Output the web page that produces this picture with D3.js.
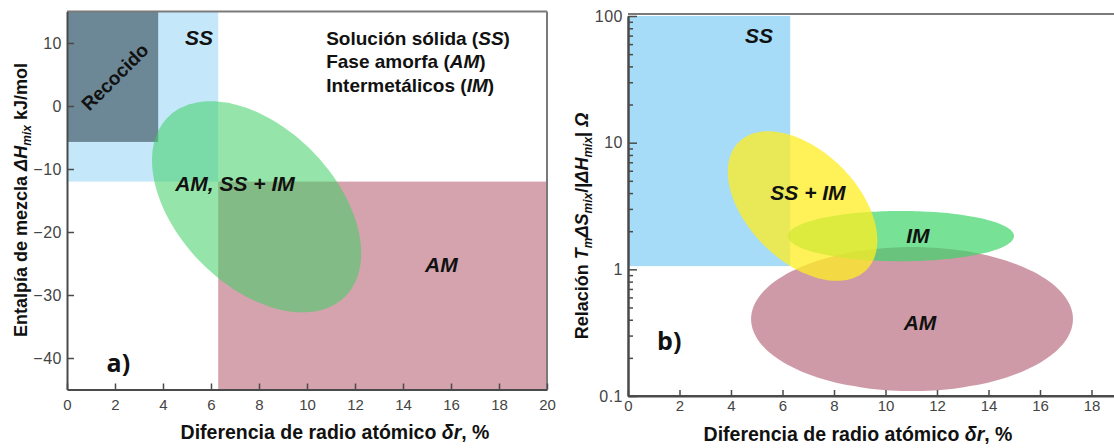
<!DOCTYPE html>
<html>
<head>
<meta charset="utf-8">
<script src="https://cdn.jsdelivr.net/npm/d3@7"></script>
<style>
  body { margin: 0; background: #fff; }
  svg { display: block; font-family: "Liberation Sans", Arial, sans-serif; }
  .tick text { font-size: 15px; fill: #444; }
  .yax .tick text { font-size: 16px; letter-spacing: 0.5px; }
  .lbl { font-weight: bold; font-style: italic; font-size: 21px; fill: #111; }
  .ttl { font-weight: bold; font-size: 18px; fill: #111; }
  .xttl { font-size: 19.5px; }
  .leg { font-size: 19px; }
</style>
</head>
<body>
<div id="chart"></div>
<script>
// ---- data, panel a) ----
var xTicksA = [0, 2, 4, 6, 8, 10, 12, 14, 16, 18, 20];
var yTicksA = [-40, -30, -20, -10, 0, 10];
var rectsA = [
  { id: 'SS',       x0: 0,   x1: 6.3, y0: -12,  y1: 15,  fill: '#c4e8fa' },
  { id: 'Recocido', x0: 0,   x1: 3.8, y0: -5.7, y1: 15,  fill: '#6c8795' },
  { id: 'AM',       x0: 6.3, x1: 20,  y0: -45,  y1: -12, fill: '#d4a3ad' }
];
var ellipsesA = [
  { id: 'AM, SS + IM', center: [7.9, -16.0], major: [11.6, -30.2], minor: [10.2, -7.1] }
];
var labelsA = [
  { text: 'SS',          x: 5.5,  y: 9.7 },
  { text: 'AM, SS + IM', x: 7.0,  y: -13.5 },
  { text: 'AM',          x: 15.6, y: -26.3 }
];
var legendLines = [['Solución sólida (', 'SS', ')'], ['Fase amorfa (', 'AM', ')'], ['Intermetálicos  (', 'IM', ')']];

// ---- data, panel b) ----
var xTicksB = [0, 2, 4, 6, 8, 10, 12, 14, 16, 18];
var yTicksB = [0.1, 1, 10, 100];
var rectsB = [
  { id: 'SS', x0: 0, x1: 6.3, y0: 1.06, y1: 100, fill: '#a6dcf7' }
];
var ellipsesB = [
  { id: 'AM',      center: [11.03, 0.405], major: [17.28, 0.405], minor: [11.03, 1.50], fill: '#cc95a2', op: 0.95 },
  { id: 'IM',      center: [10.6, 1.83],   major: [14.99, 1.83],  minor: [10.6, 2.89],  fill: '#3dd46a', op: 0.7 },
  { id: 'SS + IM', center: [6.78, 3.16],   major: [9.26, 0.99],   minor: [8.29, 6.41],  fill: '#ffee22', op: 0.75 }
];
var labelsB = [
  { text: 'SS',      x: 5.09,  y: 61 },
  { text: 'SS + IM', x: 6.99,  y: 3.53 },
  { text: 'IM',      x: 11.26, y: 1.61 },
  { text: 'AM',      x: 11.34, y: 0.332 }
];

var W = 1114, H = 448;
var svg = d3.select('#chart').append('svg').attr('width', W).attr('height', H);

function ellipsePath(e, x, y) {
  var c = [x(e.center[0]), y(e.center[1])];
  var u = [x(e.major[0]) - c[0], y(e.major[1]) - c[1]];
  var v = [x(e.minor[0]) - c[0], y(e.minor[1]) - c[1]];
  var pts = d3.range(0, 96).map(function(i) {
    var t = i / 96 * 2 * Math.PI;
    return [c[0] + u[0] * Math.cos(t) + v[0] * Math.sin(t),
            c[1] + u[1] * Math.cos(t) + v[1] * Math.sin(t)];
  });
  return d3.line().curve(d3.curveCardinalClosed)(pts);
}

function styleAxis(g) {
  g.select('.domain').attr('stroke', '#4a4a4a').attr('stroke-width', 2);
  g.selectAll('.tick line').attr('stroke', '#4a4a4a').attr('stroke-width', 1.5);
}

function frame(g, x0, x1, y0, y1) {
  g.append('line').attr('x1', x0).attr('x2', x1).attr('y1', y0).attr('y2', y0)
    .attr('stroke', '#7a7a7a').attr('stroke-width', 2);
  g.append('line').attr('x1', x1).attr('x2', x1).attr('y1', y0).attr('y2', y1)
    .attr('stroke', '#7a7a7a').attr('stroke-width', 2);
}

function addLabels(g, labels, x, y) {
  g.selectAll('text.lbl').data(labels).enter().append('text')
    .attr('class', 'lbl')
    .attr('x', function(d) { return x(d.x); })
    .attr('y', function(d) { return y(d.y); })
    .attr('text-anchor', 'middle')
    .text(function(d) { return d.text; });
}

// x title with italic part
function xTitle(g, cx, cy) {
  var t = g.append('text').attr('class', 'ttl xttl').attr('x', cx).attr('y', cy).attr('text-anchor', 'middle');
  t.append('tspan').text('Diferencia de radio atómico ');
  t.append('tspan').attr('font-style', 'italic').text('δr');
  t.append('tspan').text(', %');
}

// =================== panel a) ===================
var xA = d3.scaleLinear().domain([0, 20]).range([67, 547]);
var yA = d3.scaleLinear().domain([-45, 15]).range([389.5, 11.5]);
var gA = svg.append('g');

gA.selectAll('rect.reg').data(rectsA).enter().append('rect')
  .attr('class', 'reg')
  .attr('x', function(d) { return xA(d.x0); })
  .attr('y', function(d) { return yA(d.y1); })
  .attr('width', function(d) { return xA(d.x1) - xA(d.x0); })
  .attr('height', function(d) { return yA(d.y0) - yA(d.y1); })
  .attr('fill', function(d) { return d.fill; });

gA.selectAll('path.ell').data(ellipsesA).enter().append('path')
  .attr('class', 'ell')
  .attr('d', function(d) { return ellipsePath(d, xA, yA); })
  .attr('fill', '#3ecf64').attr('fill-opacity', 0.55);

frame(gA, xA(0), xA(20), yA(15), yA(-45));

gA.append('g').attr('transform', 'translate(0,' + yA(-45) + ')')
  .call(d3.axisBottom(xA).tickValues(xTicksA).tickSizeInner(-6).tickSizeOuter(0).tickPadding(10))
  .call(styleAxis);
gA.append('g').attr('class', 'yax').attr('transform', 'translate(' + xA(0) + ',0)')
  .call(d3.axisLeft(yA).tickValues(yTicksA).tickSizeInner(-7).tickSizeOuter(0).tickPadding(5))
  .call(styleAxis);

addLabels(gA, labelsA, xA, yA);

gA.append('text').attr('class', 'lbl')
  .style('font-style', 'normal').style('font-size', '19px')
  .attr('text-anchor', 'middle').attr('dominant-baseline', 'central')
  .attr('transform', 'translate(' + xA(2.0) + ',' + yA(4.6) + ') rotate(-45)')
  .text('Recocido');

var leg = gA.append('g');
legendLines.forEach(function(l, i) {
  var t = leg.append('text').attr('class', 'ttl leg').attr('x', xA(10.8)).attr('y', yA(9.7) + i * 23.5);
  t.append('tspan').text(l[0]);
  t.append('tspan').attr('font-style', 'italic').text(l[1]);
  t.append('tspan').text(l[2]);
});

gA.append('text').attr('x', xA(1.65)).attr('y', yA(-42.2))
  .style('font-family', '"Open Sans", sans-serif').style('font-weight', 'bold').style('font-size', '25px')
  .attr('fill', '#111').text('a)');

xTitle(gA, 335, 439);

var ytA = gA.append('text').attr('class', 'ttl').attr('text-anchor', 'middle')
  .attr('transform', 'translate(27,200) rotate(-90)');
ytA.append('tspan').text('Entalpía de mezcla ');
ytA.append('tspan').attr('font-style', 'italic').text('ΔH');
ytA.append('tspan').attr('font-style', 'italic').attr('font-size', '12px').attr('dy', 4).text('mix');
ytA.append('tspan').attr('dy', -4).text('  kJ/mol');

// =================== panel b) ===================
var xB = d3.scaleLinear().domain([0, 20]).range([628, 1143]);
var yB = d3.scaleLog().domain([0.1, 100]).range([396, 16]);
var gB = svg.append('g');

gB.selectAll('rect.reg').data(rectsB).enter().append('rect')
  .attr('class', 'reg')
  .attr('x', function(d) { return xB(d.x0); })
  .attr('y', function(d) { return yB(d.y1); })
  .attr('width', function(d) { return xB(d.x1) - xB(d.x0); })
  .attr('height', function(d) { return yB(d.y0) - yB(d.y1); })
  .attr('fill', function(d) { return d.fill; });

gB.selectAll('path.ell').data(ellipsesB).enter().append('path')
  .attr('class', 'ell')
  .attr('d', function(d) { return ellipsePath(d, xB, yB); })
  .attr('fill', function(d) { return d.fill; })
  .attr('fill-opacity', function(d) { return d.op; });

frame(gB, xB(0), xB(20), yB(100) - 2, yB(0.1));

var minorB = [];
[0.1, 1, 10].forEach(function(dec) {
  for (var k = 2; k <= 9; k++) { minorB.push(dec * k); }
});

gB.append('g').attr('transform', 'translate(0,' + yB(0.1) + ')')
  .call(d3.axisBottom(xB).tickValues(xTicksB).tickSizeInner(-6).tickSizeOuter(0).tickPadding(4))
  .call(styleAxis);
gB.select('g').select('.domain'); // keep domain running to the edge
gB.append('line').attr('x1', xB(0)).attr('x2', xB(20)).attr('y1', yB(0.1)).attr('y2', yB(0.1))
  .attr('stroke', '#4a4a4a').attr('stroke-width', 2);
gB.append('g').attr('transform', 'translate(' + xB(0) + ',0)')
  .call(d3.axisLeft(yB).tickValues(minorB).tickFormat('').tickSizeInner(-5).tickSizeOuter(0))
  .call(styleAxis);
gB.append('g').attr('class', 'yax').attr('transform', 'translate(' + xB(0) + ',0)')
  .call(d3.axisLeft(yB).tickValues(yTicksB).tickFormat(function(d) { return d < 1 ? '0.1' : String(d); })
    .tickSizeInner(-9).tickSizeOuter(0).tickPadding(5))
  .call(styleAxis);

addLabels(gB, labelsB, xB, yB);

gB.append('text').attr('x', xB(1.13)).attr('y', yB(0.231))
  .style('font-family', '"Open Sans", sans-serif').style('font-weight', 'bold').style('font-size', '25px')
  .attr('fill', '#111').text('b)');

xTitle(gB, 858, 441);

var ytB = gB.append('text').attr('class', 'ttl').attr('text-anchor', 'middle')
  .attr('transform', 'translate(588,226) rotate(-90)');
ytB.append('tspan').text('Relación  ');
ytB.append('tspan').attr('font-style', 'italic').text('T');
ytB.append('tspan').attr('font-style', 'italic').attr('font-size', '12px').attr('dy', 4).text('m');
ytB.append('tspan').attr('font-style', 'italic').attr('dy', -4).text('ΔS');
ytB.append('tspan').attr('font-style', 'italic').attr('font-size', '12px').attr('dy', 4).text('mix');
ytB.append('tspan').attr('dy', -4).text('/|');
ytB.append('tspan').attr('font-style', 'italic').text('ΔH');
ytB.append('tspan').attr('font-style', 'italic').attr('font-size', '12px').attr('dy', 4).text('mix');
ytB.append('tspan').attr('dy', -4).text('|  ');
ytB.append('tspan').attr('font-style', 'italic').text('Ω');
</script>
</body>
</html>
